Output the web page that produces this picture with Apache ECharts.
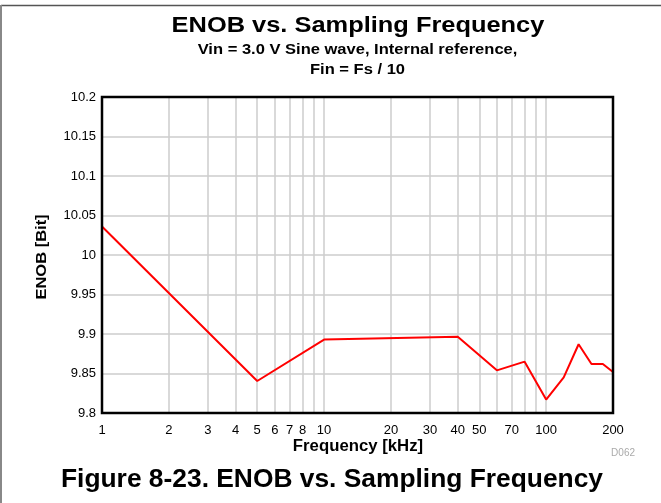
<!DOCTYPE html>
<html>
<head>
<meta charset="utf-8">
<script src="https://cdn.jsdelivr.net/npm/echarts@6/dist/echarts.min.js"></script>
<style>
html,body{margin:0;padding:0;background:#fff;}
#chart{width:661px;height:503px;}
</style>
</head>
<body>
<div id="chart"></div>
<script>
// ---- data ----
const freqKHz = [1, 5, 10, 40, 60, 80, 100, 120, 140, 160, 180, 200];
const enobBit = [10.036, 9.8405, 9.893, 9.8966, 9.854, 9.865, 9.817, 9.845, 9.887, 9.862, 9.862, 9.852];
const xTickLabels = [1, 2, 3, 4, 5, 6, 7, 8, 10, 20, 30, 40, 50, 70, 100, 200];
const xGridValues = [2, 3, 4, 5, 6, 7, 8, 9, 10, 20, 30, 40, 50, 60, 70, 80, 90, 100];
const yMin = 9.8, yMax = 10.2, yStep = 0.05;

const FONT = '"Liberation Sans", Arial, Helvetica, sans-serif';
const chart = echarts.init(document.getElementById('chart'), null, {renderer: 'canvas'});

const seriesData = freqKHz.map((f, i) => [f, enobBit[i]]);

chart.setOption({
  animation: false,
  backgroundColor: '#fff',
  grid: {
    left: 102, top: 97, width: 511, height: 316,
    show: true, borderColor: '#000', borderWidth: 2.5, backgroundColor: 'transparent', z: 10
  },
  xAxis: {
    type: 'log', logBase: 10, min: 1, max: 200,
    axisLine: {show: false},
    axisTick: {show: false},
    splitLine: {show: false},
    minorTick: {show: false},
    axisLabel: {
      customValues: xTickLabels,
      showMinLabel: true, showMaxLabel: true,
      hideOverlap: false,
      color: '#000', fontFamily: FONT, fontSize: 13, margin: 11,
      formatter: v => String(Math.round(v))
    }
  },
  yAxis: {
    type: 'value', min: yMin, max: yMax, interval: yStep,
    axisLine: {show: false},
    axisTick: {show: false},
    splitLine: {show: true, showMinLine: false, showMaxLine: false, lineStyle: {color: '#cccccc', width: 1.5}},
    axisLabel: {
      color: '#000', fontFamily: FONT, fontSize: 13, margin: 6,
      formatter: v => String(parseFloat(v.toFixed(2)))
    }
  },
  series: [
    {
      type: 'line', data: [], silent: true, z: 1,
      markLine: {
        silent: true, symbol: ['none', 'none'],
        label: {show: false},
        lineStyle: {color: '#cccccc', width: 1.5, type: 'solid'},
        data: xGridValues.map(v => ({xAxis: v}))
      }
    },
    {
      type: 'line', data: seriesData, z: 5,
      showSymbol: false, symbol: 'none',
      lineStyle: {color: '#ff0000', width: 2},
      itemStyle: {color: '#ff0000'}
    }
  ],
  graphic: [
    {type: 'line', shape: {x1: 1, y1: 5.5, x2: 661, y2: 5.5}, style: {stroke: '#555', lineWidth: 1.5}, silent: true},
    {type: 'line', shape: {x1: 1, y1: 5, x2: 1, y2: 503}, style: {stroke: '#888', lineWidth: 2}, silent: true},
    {type: 'text', x: 358, y: 26, scaleX: 1.12, style: {text: 'ENOB vs. Sampling Frequency', font: 'bold 22.7px ' + FONT, fill: '#000', textAlign: 'center', textVerticalAlign: 'middle'}},
    {type: 'text', x: 357.5, y: 50.5, scaleX: 1.18, style: {text: 'Vin = 3.0 V Sine wave, Internal reference,', font: 'bold 14px ' + FONT, fill: '#000', textAlign: 'center', textVerticalAlign: 'middle'}},
    {type: 'text', x: 357.5, y: 70, scaleX: 1.18, style: {text: 'Fin = Fs / 10', font: 'bold 14px ' + FONT, fill: '#000', textAlign: 'center', textVerticalAlign: 'middle'}},
    {type: 'text', x: 42, y: 257, rotation: Math.PI / 2, scaleX: 1.1, style: {text: 'ENOB [Bit]', font: 'bold 15px ' + FONT, fill: '#000', textAlign: 'center', textVerticalAlign: 'middle'}},
    {type: 'text', x: 358, y: 447, scaleX: 1.06, style: {text: 'Frequency [kHz]', font: 'bold 15.8px ' + FONT, fill: '#000', textAlign: 'center', textVerticalAlign: 'middle'}},
    {type: 'text', x: 635, y: 453, style: {text: 'D062', font: '10px ' + FONT, fill: '#aaaaaa', textAlign: 'right', textVerticalAlign: 'middle'}},
    {type: 'text', x: 332, y: 480, scaleX: 1.03, style: {text: 'Figure 8-23. ENOB vs. Sampling Frequency', font: 'bold 25.6px ' + FONT, fill: '#000', textAlign: 'center', textVerticalAlign: 'middle'}}
  ]
});
</script>
</body>
</html>
